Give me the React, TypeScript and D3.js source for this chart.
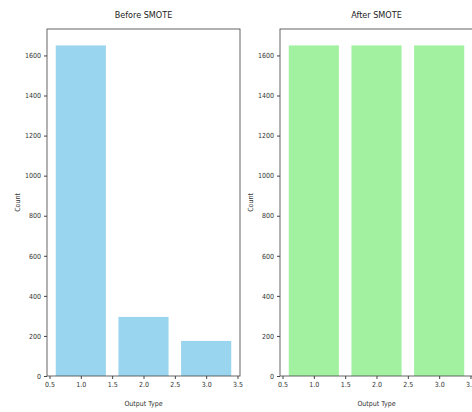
import { useEffect, useRef } from "react";
import * as d3 from "d3";

const W = 472;
const H = 412;

// data
const categories = [1, 2, 3];
const beforeCounts = [1650, 295, 175];
const afterCounts = [1650, 1650, 1650];
const yTicks = [0, 200, 400, 600, 800, 1000, 1200, 1400, 1600];
const xTicks = [0.5, 1.0, 1.5, 2.0, 2.5, 3.0, 3.5];
const panels = [
    { title: "Before SMOTE", values: beforeCounts, color: "skyblue", left: 47, right: 240 },
    { title: "After SMOTE", values: afterCounts, color: "lightgreen", left: 280, right: 473 },
];

const TOP = 29;
const BOTTOM = 376;
const FONT = "'DejaVu Sans Condensed', 'DejaVu Sans', sans-serif";

const Panel = ({ title, values, color, left, right, showYLabel }) => {
    const axesRef = useRef(null);
    const xScale = d3.scaleLinear().domain([0.46, 3.54]).range([left, right]);
    const yScale = d3.scaleLinear().domain([0, 1732]).range([BOTTOM, TOP]);
    const barW = 0.8;

    // axes drawn with d3, like the old charts
    useEffect(() => {
        const g = d3.select(axesRef.current);
        g.selectAll("*").remove();
        const xAxis = d3.axisBottom(xScale).tickValues(xTicks).tickFormat(d3.format(".1f")).tickSize(3).tickPadding(3);
        const yAxis = d3.axisLeft(yScale).tickValues(yTicks).tickFormat(d3.format("d")).tickSize(3).tickPadding(3);
        g.append("g").attr("transform", `translate(0,${BOTTOM})`).call(xAxis);
        g.append("g").attr("transform", `translate(${left},0)`).call(yAxis);
        g.selectAll(".domain").remove();
        g.selectAll("text").attr("font-size", 7).attr("font-family", FONT).attr("fill", "#333");
        g.selectAll(".tick line").attr("stroke", "#444");
    }, [left, right]);

    return (
        <g>
            {values.map((v, i) => (
                <rect
                    key={i}
                    x={xScale(categories[i] - barW / 2)}
                    y={yScale(v)}
                    width={xScale(categories[i] + barW / 2) - xScale(categories[i] - barW / 2)}
                    height={BOTTOM - yScale(v)}
                    fill={color}
                    fillOpacity={0.85}
                />
            ))}
            <rect x={left} y={TOP} width={right - left} height={BOTTOM - TOP} fill="none" stroke="#555" strokeWidth={0.9} />
            <g ref={axesRef} />
            <text x={(left + right) / 2} y={18} textAnchor="middle" fontSize={9} fontFamily={FONT} fill="#222">{title}</text>
            <text x={(left + right) / 2} y={406} textAnchor="middle" fontSize={7} fontFamily={FONT} fill="#333">Output Type</text>
            <text transform={`translate(${left - 27},${(TOP + BOTTOM) / 2}) rotate(-90)`} textAnchor="middle" fontSize={7} fontFamily={FONT} fill="#333">Count</text>
        </g>
    );
};

export default function App() {
    return (
        <svg width={W} height={H} style={{ position: "absolute", left: 0, top: 0, background: "#fff" }}>
            <rect width={W} height={H} fill="#fff" />
            {panels.map((p) => (
                <Panel key={p.title} {...p} />
            ))}
        </svg>
    );
}
